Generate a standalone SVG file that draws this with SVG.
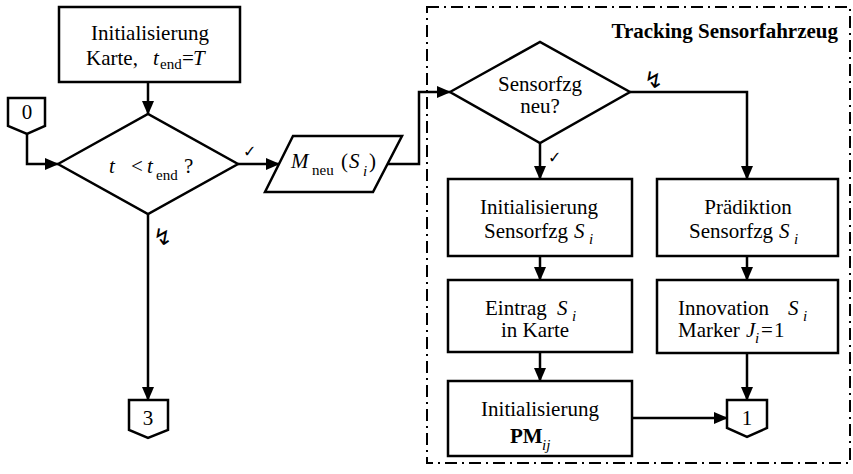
<svg xmlns="http://www.w3.org/2000/svg" width="853" height="474" viewBox="0 0 853 474">
<style>
.s{fill:#fff;stroke:#000;stroke-width:2.5;stroke-linejoin:miter}
.c{fill:none;stroke:#000;stroke-width:2.5}
.t{font-family:"Liberation Serif","Times New Roman",serif;font-size:21px;fill:#000}
.m{text-anchor:middle}
.i{font-style:italic}
.sub{font-size:15px}
.chk{font-family:"DejaVu Sans",sans-serif;font-size:16px;fill:#000}
.bolt{font-family:"DejaVu Sans",sans-serif;font-size:23px;fill:#000}
</style>
<defs>
<marker id="a" markerUnits="userSpaceOnUse" markerWidth="14" markerHeight="12" refX="13" refY="6" orient="auto">
<path d="M0,0 L14,6 L0,12 Z" fill="#000"/>
</marker>
</defs>
<rect id="frame" x="427" y="7" width="423" height="456" fill="none" stroke="#000" stroke-width="2" stroke-dasharray="12 5 2 5"/>
<text class="t" x="838" y="38" text-anchor="end" font-weight="bold">Tracking Sensorfahrzeug</text>
<g id="connectors">
<path class="c" d="M148,82 V114" marker-end="url(#a)"/>
<path class="c" d="M27,134 V164 H58" marker-end="url(#a)"/>
<path class="c" d="M238,164 H279" marker-end="url(#a)"/>
<path class="c" d="M387,164 H419 V92 H450" marker-end="url(#a)"/>
<path class="c" d="M148,214 V400" marker-end="url(#a)"/>
<path class="c" d="M540,143 V179" marker-end="url(#a)"/>
<path class="c" d="M630,92 H747 V179" marker-end="url(#a)"/>
<path class="c" d="M540,256 V280" marker-end="url(#a)"/>
<path class="c" d="M747,256 V280" marker-end="url(#a)"/>
<path class="c" d="M540,352 V381" marker-end="url(#a)"/>
<path class="c" d="M747,353 V400" marker-end="url(#a)"/>
<path class="c" d="M632,418 H727" marker-end="url(#a)"/>
<text class="chk" x="243" y="157">✓</text>
<text class="chk" x="548" y="163">✓</text>
<text class="bolt" x="153" y="245">↯</text>
<text class="bolt" x="644" y="88">↯</text>
</g>
<g id="init-karte">
<rect class="s" x="59" y="7" width="181" height="75"/>
<text class="t m" x="150" y="40">Initialisierung</text>
<text class="t" y="65"><tspan x="86">Karte,</tspan><tspan x="153" class="i">t</tspan><tspan x="160" y="69" class="sub">end</tspan><tspan x="182" y="65">=</tspan><tspan x="193" class="i">T</tspan></text>
</g>
<g id="conn0">
<path class="s" d="M8,98 H45 V126 L27,134 L8,126 Z"/>
<text class="t m" x="27" y="119" font-size="19">0</text>
</g>
<g id="decision-t">
<path class="s" d="M58,164 L148,114 L238,164 L148,214 Z"/>
<text class="t" y="173"><tspan x="109" class="i">t</tspan><tspan x="131">&lt;</tspan><tspan x="147" class="i">t</tspan><tspan x="156" y="180" class="sub">end</tspan><tspan x="184" y="173">?</tspan></text>
</g>
<g id="input-m">
<path class="s" d="M293,136 H402 L373,192 H265 Z"/>
<text class="t" y="168"><tspan x="291" class="i">M</tspan><tspan x="312" y="175" class="sub">neu</tspan><tspan x="341" y="168">(</tspan><tspan x="349" class="i">S</tspan><tspan x="363" y="176" class="sub i">i</tspan><tspan x="369" y="168">)</tspan></text>
</g>
<g id="decision-neu">
<path class="s" d="M450,92 L540,42 L630,92 L540,143 Z"/>
<text class="t m" x="540" y="91">Sensorfzg</text>
<text class="t m" x="540" y="113">neu?</text>
</g>
<g id="init-sensorfzg">
<rect class="s" x="448" y="179" width="184" height="77"/>
<text class="t m" x="539" y="214">Initialisierung</text>
<text class="t" y="238"><tspan x="484">Sensorfzg</tspan><tspan x="574" class="i">S</tspan><tspan x="589" y="244" class="sub i">i</tspan></text>
</g>
<g id="praediktion">
<rect class="s" x="657" y="179" width="181" height="77"/>
<text class="t m" x="748" y="214">Prädiktion</text>
<text class="t" y="238"><tspan x="689">Sensorfzg</tspan><tspan x="779" class="i">S</tspan><tspan x="794" y="244" class="sub i">i</tspan></text>
</g>
<g id="eintrag">
<rect class="s" x="448" y="280" width="184" height="72"/>
<text class="t" y="315"><tspan x="485">Eintrag</tspan><tspan x="557" class="i">S</tspan><tspan x="572" y="321" class="sub i">i</tspan></text>
<text class="t m" x="535" y="337">in Karte</text>
</g>
<g id="innovation">
<rect class="s" x="657" y="280" width="181" height="73"/>
<text class="t" y="315"><tspan x="678">Innovation</tspan><tspan x="788" class="i">S</tspan><tspan x="803" y="321" class="sub i">i</tspan></text>
<text class="t" y="337"><tspan x="678">Marker</tspan><tspan x="746" class="i">J</tspan><tspan x="755" y="343" class="sub i">i</tspan><tspan x="761" y="337">=</tspan><tspan x="774">1</tspan></text>
</g>
<g id="init-pm">
<rect class="s" x="448" y="381" width="184" height="75"/>
<text class="t m" x="540" y="416">Initialisierung</text>
<text class="t" y="443"><tspan x="510" font-weight="bold">PM</tspan><tspan x="542" y="450" class="sub i">ij</tspan></text>
</g>
<g id="conn1">
<path class="s" d="M727,400 H767 V428 L747,437 L727,428 Z"/>
<text class="t m" x="747" y="425" font-size="19">1</text>
</g>
<g id="conn3">
<path class="s" d="M129,400 H168 V430 L148,438 L129,430 Z"/>
<text class="t m" x="148" y="425" font-size="19">3</text>
</g>
</svg>
